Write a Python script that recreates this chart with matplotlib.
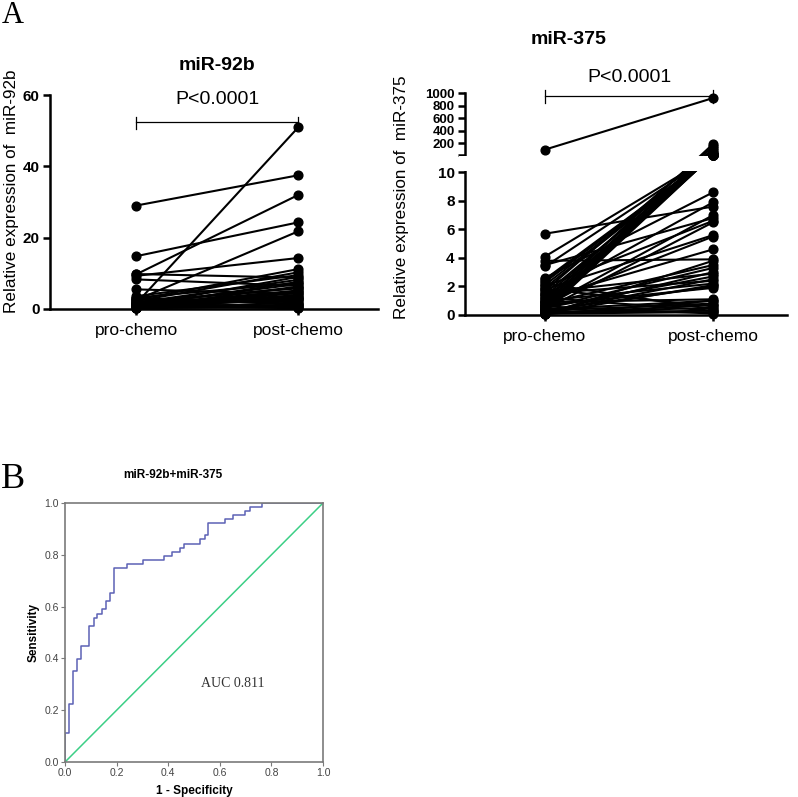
import numpy as np
import matplotlib
matplotlib.use("Agg")
import matplotlib.pyplot as plt
from matplotlib.patches import Rectangle

plt.rcParams['font.family'] = ['Liberation Sans', 'DejaVu Sans']

# ---- data ----
groups = ['pro-chemo', 'post-chemo']

mir92b_pro = [29.0, 14.8, 9.7, 9.3, 1.5, 2.5, 9.8, 8.3, 5.5, 3.6, 3.0, 2.6, 2.2, 1.0,
              1.8, 0.8, 1.2, 0.5, 2.0, 1.1, 0.6, 0.3, 0.9, 1.4, 0.4, 0.7, 1.6, 0.2,
              2.8, 0.5, 1.3, 0.8, 0.3, 1.0, 0.6, 0.4, 1.7, 0.9, 0.2, 3.2]
mir92b_post = [37.5, 24.3, 32.0, 14.3, 51.0, 21.8, 8.8, 6.5, 4.2, 9.5, 2.0, 11.2, 10.3, 9.0,
               8.2, 7.6, 7.0, 6.3, 5.8, 5.2, 4.8, 4.5, 3.9, 3.5, 3.1, 2.7, 2.4, 1.8,
               1.5, 1.2, 0.9, 0.6, 0.4, 0.2, 3.3, 2.9, 6.0, 5.0, 1.0, 7.3]

mir375_pro = [100, 5.7, 4.1, 3.8, 3.5, 3.4, 2.6, 2.5, 2.3, 2.1, 2.0, 1.9, 1.8, 1.7,
              1.6, 1.5, 1.4, 1.3, 1.2, 1.1, 1.0, 1.0, 0.9, 0.9, 0.8, 0.8, 0.7, 0.7,
              0.6, 0.6, 0.5, 0.5, 0.5, 0.4, 0.4, 0.4, 0.3, 0.3, 0.3, 0.2, 0.2, 0.2,
              0.2, 0.15, 0.1, 0.1, 0.1, 0.05, 0.05, 2.2, 1.8, 1.5, 1.2, 2.4, 0.6, 0.9]
mir375_post = [920, 7.6, 10.8, 3.9, 6.8, 12.0, 8.6, 14.0, 20.0, 11.0, 6.6, 30.0, 5.6, 150,
               2.9, 11.5, 7.9, 60, 4.6, 13.0, 2.2, 190, 5.5, 16.0, 3.5, 120, 1.9, 25.0,
               7.0, 10.5, 2.7, 40.0, 3.3, 1.0, 12.5, 6.5, 2.0, 0.8, 100, 2.5, 0.5, 3.0,
               18.0, 0.3, 2.1, 0.7, 0.2, 1.0, 3.8, 0.4, 0.6, 2.4, 0.3, 11.2, 0.1, 1.1]

# ROC step curve (1 - specificity, sensitivity)
roc_fpr = [0.0, 0.0, 0.016, 0.016, 0.030, 0.030, 0.048, 0.048, 0.063, 0.063, 0.094, 0.094,
           0.111, 0.111, 0.125, 0.125, 0.142, 0.142, 0.158, 0.158, 0.175, 0.175, 0.191, 0.191,
           0.239, 0.239, 0.303, 0.303, 0.382, 0.382, 0.414, 0.414, 0.446, 0.446, 0.462, 0.462,
           0.524, 0.524, 0.541, 0.541, 0.556, 0.556, 0.620, 0.620, 0.651, 0.651, 0.699, 0.699,
           0.715, 0.715, 0.765, 0.765, 1.0]
roc_tpr = [0.0, 0.113, 0.113, 0.225, 0.225, 0.351, 0.351, 0.399, 0.399, 0.447, 0.447, 0.526,
           0.526, 0.557, 0.557, 0.573, 0.573, 0.589, 0.589, 0.622, 0.622, 0.652, 0.652, 0.749,
           0.749, 0.763, 0.763, 0.780, 0.780, 0.795, 0.795, 0.812, 0.812, 0.828, 0.828, 0.843,
           0.843, 0.860, 0.860, 0.875, 0.875, 0.923, 0.923, 0.940, 0.940, 0.955, 0.955, 0.970,
           0.970, 0.986, 0.986, 1.0, 1.0]
auc_text = 'AUC 0.811'

# broken y axis for miR-375: 0-10 linear, then gap, then 10-1000 compressed
GAP = 1.2
UP = 0.00441


def fwd(v):
    v = np.asarray(v, float)
    return np.where(v <= 10, v, 10 + GAP + (v - 10) * UP)


def inv(f):
    f = np.asarray(f, float)
    return np.where(f <= 10, f,
                    np.where(f < 10 + GAP, 10, 10 + (f - 10 - GAP) / UP))


def paired(ax, pro, post):
    for a, b in zip(pro, post):
        ax.plot([0, 1], [a, b], color='black', lw=1.5, zorder=2, clip_on=False)
    ax.plot(np.zeros(len(pro)), pro, 'o', color='black', ms=6.3, zorder=3, clip_on=False)
    ax.plot(np.ones(len(post)), post, 'o', color='black', ms=6.3, zorder=3, clip_on=False)


def style_prism(ax, ysize):
    for s in ['top', 'right']:
        ax.spines[s].set_visible(False)
    for s in ['left', 'bottom']:
        ax.spines[s].set_linewidth(1.8)
    ax.tick_params(axis='y', width=1.8, length=5, labelsize=ysize, pad=2.5)
    ax.tick_params(axis='x', width=1.8, length=4, labelsize=12.5, pad=6)
    ax.set_xticks([0, 1])
    ax.set_xticklabels(groups)
    for lbl in ax.get_yticklabels():
        lbl.set_fontweight('bold')


fig = plt.figure(figsize=(7.98, 7.97), dpi=100)

# ---- miR-92b ----
ax1 = fig.add_axes([0.0627, 0.6123, 0.411, 0.2685])
paired(ax1, mir92b_pro, mir92b_post)
ax1.set_xlim(-0.53, 1.49)
ax1.set_ylim(0, 60)
ax1.set_yticks([0, 20, 40, 60])
style_prism(ax1, 11)
ax1.plot([0, 1], [52.5, 52.5], color='black', lw=0.9, clip_on=False)
ax1.plot([0, 0], [50.6, 53.9], color='black', lw=0.9, clip_on=False)
ax1.plot([1, 1], [50.6, 53.9], color='black', lw=0.9, clip_on=False)
ax1.text(0.5, 58.6, 'P<0.0001', ha='center', va='center', fontsize=14)
fig.text(0.272, 0.918, 'miR-92b', ha='center', va='center', fontsize=14, fontweight='bold')
fig.text(0.015, 0.760, 'Relative expression of  miR-92b', rotation=90,
         ha='center', va='center', fontsize=12.3)

# ---- miR-375 ----
ax2 = fig.add_axes([0.5827, 0.6048, 0.4035, 0.2785])
ax2.set_yscale('function', functions=(fwd, inv))
paired(ax2, mir375_pro, mir375_post)
ax2.set_xlim(-0.476, 1.44)
ax2.set_ylim(0, 1000)
up_ticks = [200, 400, 600, 800, 1000]
ax2.set_yticks([0, 2, 4, 6, 8, 10, 10.0001] + up_ticks,
               ['0', '2', '4', '6', '8', '10', ''] + [str(t) for t in up_ticks])
ax2.yaxis.set_minor_locator(plt.NullLocator())
style_prism(ax2, 11)
for lbl in ax2.get_yticklabels():
    if lbl.get_text() in [str(t) for t in up_ticks]:
        lbl.set_fontsize(9.5)
# white band hides the axis break (spine, tick marks and lines only)
ftop = float(fwd(1000))
g0 = (10 + 0.08) / ftop
g1 = (10 + GAP - 0.08) / ftop
ax2.add_patch(Rectangle((-0.02, g0), 1.07, g1 - g0, transform=ax2.transAxes,
                        facecolor='white', edgecolor='none', zorder=2.6, clip_on=False))
ax2.plot([0, 1], [0.986, 0.986], color='black', lw=0.9, transform=ax2.get_xaxis_transform(),
         clip_on=False)
for xx in [0, 1]:
    ax2.plot([xx, xx], [0.955, 1.014], color='black', lw=0.9,
             transform=ax2.get_xaxis_transform(), clip_on=False)
ax2.text(0.5, 1.068, 'P<0.0001', ha='center', va='center', fontsize=14,
         transform=ax2.get_xaxis_transform())
fig.text(0.712, 0.950, 'miR-375', ha='center', va='center', fontsize=14, fontweight='bold')
fig.text(0.503, 0.753, 'Relative expression of  miR-375', rotation=90,
         ha='center', va='center', fontsize=12.3)

# ---- ROC ----
ax3 = fig.add_axes([0.0815, 0.0439, 0.3233, 0.325])
ax3.plot(roc_fpr, roc_tpr, color='#5c62b5', lw=1.1)
ax3.plot([0, 1], [0, 1], color='#3ccf86', lw=1.1)
ax3.set_xlim(0, 1)
ax3.set_ylim(0, 1)
ax3.set_xticks(np.arange(0, 1.01, 0.2))
ax3.set_yticks(np.arange(0, 1.01, 0.2))
ax3.set_xticklabels([f'{t:.1f}' for t in np.arange(0, 1.01, 0.2)])
ax3.set_yticklabels([f'{t:.1f}' for t in np.arange(0, 1.01, 0.2)])
for s in ax3.spines.values():
    s.set_color('#7a7a7a')
    s.set_linewidth(1.2)
ax3.tick_params(colors='#444444', labelsize=7.5, length=3, width=0.8, pad=1.5)
ax3.tick_params(axis='both', color='#7a7a7a')
ax3.set_xlabel('1 - Specificity', fontsize=8.5, fontweight='bold', labelpad=5)
ax3.set_ylabel('Sensitivity', fontsize=8.5, fontweight='bold', labelpad=3)
ax3.text(0.65, 0.305, auc_text, ha='center', va='center', fontsize=10,
         family=['Liberation Serif', 'DejaVu Serif'], color='#333333')
fig.text(0.217, 0.404, 'miR-92b+miR-375', ha='center', va='center', fontsize=8.5,
         fontweight='bold')

fig.text(0.016, 0.981, 'A', ha='center', va='center', fontsize=22,
         family=['Liberation Serif', 'DejaVu Serif'])
fig.text(0.016, 0.398, 'B', ha='center', va='center', fontsize=26,
         family=['Liberation Serif', 'DejaVu Serif'])

fig.savefig('out.png', dpi=100)
